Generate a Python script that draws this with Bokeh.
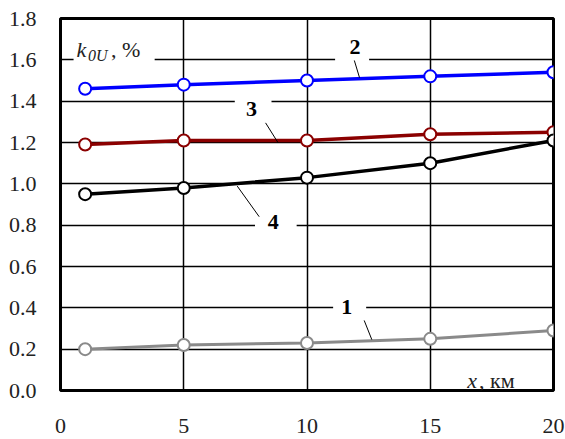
from bokeh.plotting import figure
from bokeh.models import Range1d, FixedTicker, NumeralTickFormatter, Label
from bokeh.embed import file_html
from bokeh.resources import INLINE

# distance along the line, km
x_km = [1, 5, 10, 15, 20]

# coefficient values, %, for curves 1..4
curve1 = [0.20, 0.22, 0.23, 0.25, 0.29]
curve2 = [1.46, 1.48, 1.50, 1.52, 1.54]
curve3 = [1.19, 1.21, 1.21, 1.24, 1.25]
curve4 = [0.95, 0.98, 1.03, 1.10, 1.21]

x_ticks = [0, 5, 10, 15, 20]
y_ticks = [0.0, 0.2, 0.4, 0.6, 0.8, 1.0, 1.2, 1.4, 1.6, 1.8]

SERIF = "Liberation Serif"

p = figure(width=565, height=439, x_range=Range1d(0, 20), y_range=Range1d(0, 1.8),
           output_backend="svg", toolbar_location=None,
           min_border_left=60, min_border_right=12, min_border_top=18, min_border_bottom=49)
p.background_fill_color = "white"
p.border_fill_color = "white"
p.outline_line_color = "black"
p.outline_line_width = 3
p.outline_line_alpha = 1

# grid
p.xgrid.ticker = FixedTicker(ticks=[5, 10, 15])
p.ygrid.ticker = FixedTicker(ticks=[0.2, 0.4, 0.6, 0.8, 1.0, 1.2, 1.4, 1.6])
for g in (p.xgrid, p.ygrid):
    g.grid_line_color = "black"
    g.grid_line_width = 1.5
    g.grid_line_alpha = 1

# axes: labels only, the frame outline draws the border
p.xaxis.ticker = FixedTicker(ticks=x_ticks)
p.yaxis.ticker = FixedTicker(ticks=y_ticks)
p.yaxis.formatter = NumeralTickFormatter(format="0.0")
for ax in (p.xaxis, p.yaxis):
    ax.axis_line_color = None
    ax.major_tick_line_color = None
    ax.minor_tick_line_color = None
    ax.major_label_text_font = SERIF
    ax.major_label_text_font_size = "22px"
    ax.major_label_text_color = "#222222"
p.xaxis.major_label_standoff = 22
p.yaxis.major_label_standoff = 18

# white gaps in the grid behind the curve numbers and axis titles
gaps = [
    (0.53, 3.82, 1.50, 1.75),   # k0U, %
    (11.14, 12.52, 1.57, 1.63),  # 2
    (7.07, 8.56, 1.37, 1.43),   # 3
    (7.89, 9.58, 0.77, 0.83),   # 4
    (11.06, 12.40, 0.37, 0.43),  # 1
]
p.quad(left=[g[0] for g in gaps], right=[g[1] for g in gaps],
       bottom=[g[2] for g in gaps], top=[g[3] for g in gaps],
       fill_color="white", line_color=None)

# curves
series = [
    (curve1, "#8a8a8a", 3),
    (curve2, "#0000ff", 3.5),
    (curve3, "#8b0000", 3.5),
    (curve4, "black", 3.5),
]
for ys, color, lw in series:
    p.line(x_km, ys, line_color=color, line_width=lw)
    p.scatter(x_km, ys, size=12, marker="circle", fill_color="white",
              line_color=color, line_width=2)

# leader lines from curve numbers
p.segment(x0=[11.92, 8.32, 8.06, 12.32], y0=[1.597, 1.295, 0.841, 0.339],
          x1=[12.13, 8.83, 7.17, 12.63], y1=[1.514, 1.198, 0.989, 0.246],
          line_color="black", line_width=1)

# curve numbers
for txt, lx, ly in [("2", 11.95, 1.66), ("3", 7.75, 1.36), ("4", 8.63, 0.815), ("1", 11.61, 0.405)]:
    p.add_layout(Label(x=lx, y=ly, text=txt, text_font=SERIF, text_font_size="22px",
                       text_font_style="bold", text_color="black",
                       text_align="center", text_baseline="middle"))

# y-axis title: k_0U, %
p.add_layout(Label(x=0.65, y=1.652, text="k", text_font=SERIF, text_font_size="22px",
                   text_font_style="italic", text_color="#222222",
                   text_align="left", text_baseline="alphabetic"))
p.add_layout(Label(x=1.12, y=1.622, text="0U", text_font=SERIF, text_font_size="16px",
                   text_font_style="italic", text_color="#222222",
                   text_align="left", text_baseline="alphabetic"))
p.add_layout(Label(x=2.05, y=1.652, text=", %", text_font=SERIF, text_font_size="22px",
                   text_color="#222222", text_align="left", text_baseline="alphabetic"))

# x-axis title: x, км
p.add_layout(Label(x=16.5, y=0.05, text="x", text_font=SERIF, text_font_size="22px",
                   text_font_style="italic", text_color="#222222",
                   text_align="left", text_baseline="alphabetic"))
p.add_layout(Label(x=16.98, y=0.05, text=", км", text_font=SERIF, text_font_size="22px",
                   text_color="#222222", text_align="left", text_baseline="alphabetic"))

open("out.html", "w").write(file_html(p, INLINE))
